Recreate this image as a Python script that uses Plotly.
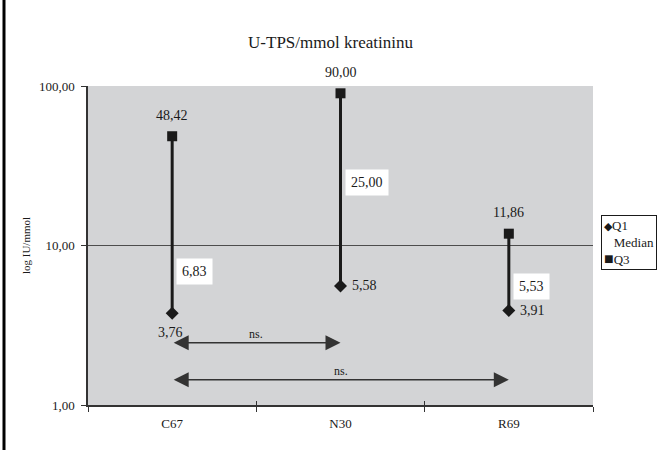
import math
import plotly.graph_objects as go

# Groups and quartile values (IU per mmol creatinine)
categories = ["C67", "N30", "R69"]
q1_values = [3.76, 5.58, 3.91]
median_values = [6.83, 25.00, 5.53]
q3_values = [48.42, 90.00, 11.86]

# Pairwise comparisons: (from group, to group, height on the axis, label)
comparisons = [("C67", "N30", 2.46, "ns."), ("C67", "R69", 1.44, "ns.")]

y_tick_values = [1, 10, 100]

FONT = "Liberation Serif, Times New Roman, serif"
INK = "#1a1a1a"
AXIS = "#333333"


def fmt(v):
    return f"{v:.2f}".replace(".", ",")


fig = go.Figure()

# Q1 -> Q3 vertical range lines
line_x, line_y = [], []
for c, lo, hi in zip(categories, q1_values, q3_values):
    line_x += [c, c, None]
    line_y += [lo, hi, None]
fig.add_trace(go.Scatter(x=line_x, y=line_y, mode="lines",
                         line=dict(color=INK, width=3),
                         showlegend=False, hoverinfo="skip"))

fig.add_trace(go.Scatter(x=categories, y=q1_values, mode="markers", name="Q1",
                         marker=dict(symbol="diamond", size=10, color=INK),
                         showlegend=False))
fig.add_trace(go.Scatter(x=categories, y=q3_values, mode="markers", name="Q3",
                         marker=dict(symbol="square", size=10, color=INK),
                         showlegend=False))

# helper trace carrying inside boundary ticks on the category axis
fig.add_trace(go.Scatter(x=categories, y=[None] * len(categories), xaxis="x2",
                         mode="markers", showlegend=False, hoverinfo="skip"))

annotations = []

# Q3 value labels above the squares
for c, v in zip(categories, q3_values):
    annotations.append(dict(x=c, y=math.log10(v), text=fmt(v), showarrow=False,
                            yshift=21, font=dict(family=FONT, size=14, color=INK)))

# Median labels in white boxes, right of the range line
for c, v in zip(categories, median_values):
    annotations.append(dict(x=c, y=math.log10(v), text=fmt(v), showarrow=False,
                            xanchor="left", xshift=4, bgcolor="white", borderpad=5,
                            font=dict(family=FONT, size=14, color=INK)))

# Q1 labels: below for the first group, right of the diamond otherwise
q1_label_side = {"C67": "below", "N30": "right", "R69": "right"}
for c, v in zip(categories, q1_values):
    if q1_label_side[c] == "below":
        annotations.append(dict(x=c, y=math.log10(v), text=fmt(v), showarrow=False,
                                yshift=-19, xshift=-2,
                                font=dict(family=FONT, size=14, color=INK)))
    else:
        annotations.append(dict(x=c, y=math.log10(v), text=fmt(v), showarrow=False,
                                xanchor="left", xshift=9,
                                font=dict(family=FONT, size=14, color=INK)))

# Double-headed comparison arrows with their labels
for a, b, level, label in comparisons:
    ia, ib = categories.index(a), categories.index(b)
    annotations.append(dict(x=ib, y=math.log10(level), ax=ia, ay=math.log10(level),
                            xref="x", yref="y", axref="x", ayref="y", text="",
                            showarrow=True, arrowside="end+start", arrowhead=2,
                            arrowsize=2, arrowwidth=1.5, arrowcolor=AXIS,
                            standoff=0, startstandoff=0))
    annotations.append(dict(x=(ia + ib) / 2, y=math.log10(level), text=label,
                            showarrow=False, yshift=9,
                            font=dict(family=FONT, size=12, color=INK)))

# Legend box
annotations.append(dict(xref="paper", yref="paper", x=(601 - 88) / 505,
                        y=(405 - 215) / 319, xanchor="left", yanchor="top",
                        text=("<span style='font-size:11px'>\u25c6</span>Q1<br>"
                              "\u00a0\u00a0\u00a0Median<br>"
                              "<span style='font-size:16px'>\u25a0</span>Q3"),
                        align="left", showarrow=False, bgcolor="white",
                        bordercolor=INK, borderwidth=1, borderpad=2,
                        font=dict(family=FONT, size=13, color=INK)))

fig.update_layout(
    width=661, height=450,
    margin=dict(l=88, r=68, t=86, b=45, autoexpand=False),
    paper_bgcolor="white", plot_bgcolor="#d3d4d6",
    separators=",.",
    font=dict(family=FONT, size=12, color=INK),
    title=dict(text="U-TPS/mmol kreatininu", x=0.5, xref="container",
               y=1 - 42 / 450, yref="container", yanchor="middle",
               font=dict(family=FONT, size=17, color=INK)),
    xaxis=dict(type="category", categoryorder="array", categoryarray=categories,
               range=[-0.5, len(categories) - 0.5], showgrid=False,
               showline=True, linecolor=AXIS, linewidth=1.5,
               ticks="outside", tickson="boundaries", ticklen=5, tickcolor=AXIS,
               tickwidth=1, ticklabelstandoff=6,
               tickfont=dict(family=FONT, size=13, color=INK)),
    xaxis2=dict(type="category", categoryorder="array", categoryarray=categories,
                overlaying="x", anchor="y", side="bottom",
                range=[-0.5, len(categories) - 0.5], showgrid=False,
                showticklabels=False, ticks="inside", tickson="boundaries",
                ticklen=4, tickcolor=AXIS, tickwidth=1),
    yaxis=dict(type="log", range=[0, 2], tickvals=y_tick_values,
               ticktext=[fmt(v) for v in y_tick_values],
               showgrid=True, gridcolor="#4d4d4d", gridwidth=1,
               showline=True, linecolor=AXIS, linewidth=1.5,
               ticks="outside", ticklen=5, tickcolor=AXIS, ticklabelstandoff=4,
               tickfont=dict(family=FONT, size=13, color=INK),
               title=dict(text="log IU/mmol", standoff=6,
                          font=dict(family=FONT, size=11, color=INK))),
    annotations=annotations,
    shapes=[dict(type="line", xref="paper", yref="paper",
                 x0=(4 - 88) / 505, x1=(4 - 88) / 505,
                 y0=(405 - 450) / 319, y1=405 / 319,
                 line=dict(color="black", width=3))],
    showlegend=False,
)

fig.write_html("out.html")
